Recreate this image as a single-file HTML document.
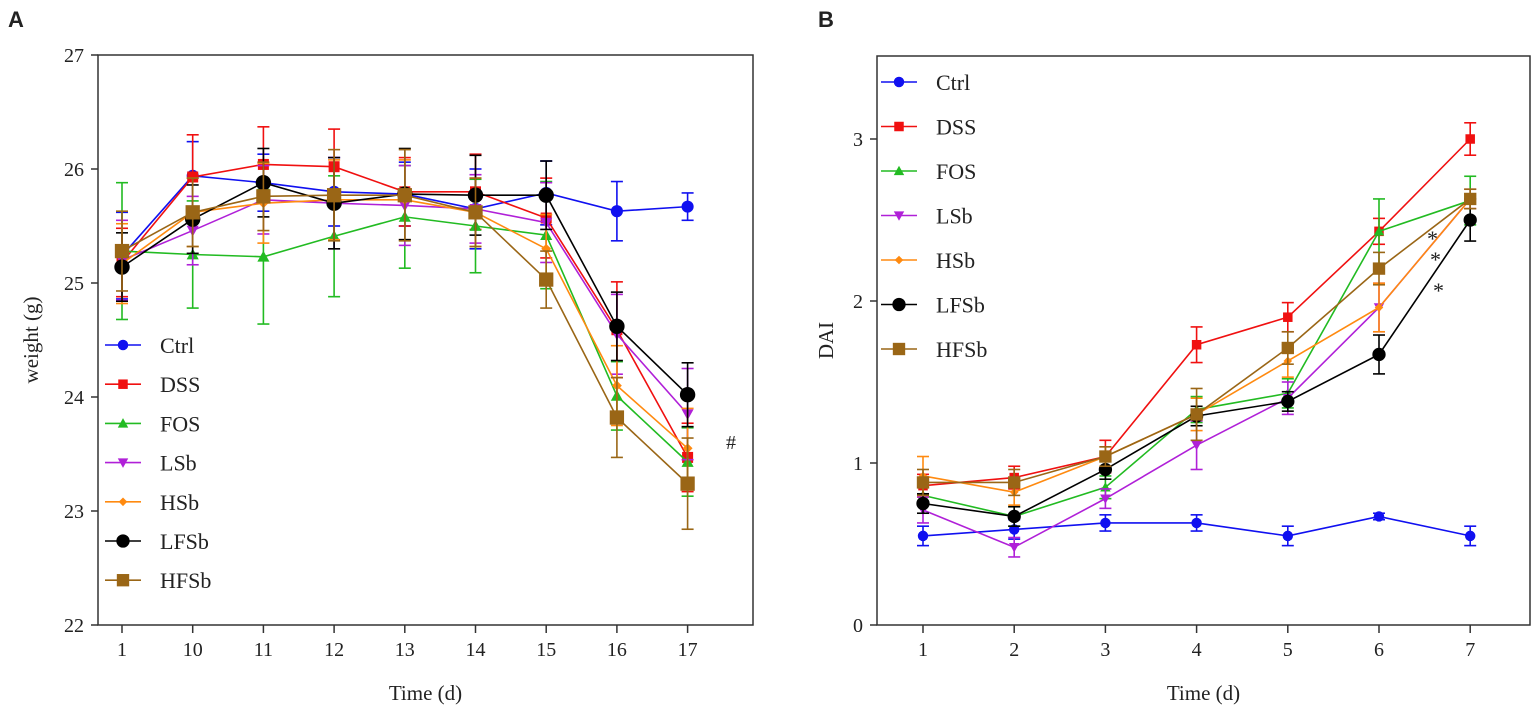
<!DOCTYPE html>
<html><head><meta charset="utf-8"><style>
body{margin:0;background:#fff;width:1535px;height:720px;overflow:hidden}
svg text{font-family:"Liberation Serif",serif;fill:#222}
</style></head><body>
<svg id="s" width="1535" height="720">
<text x="8" y="27" style="font-family:'Liberation Sans',sans-serif;font-weight:bold;font-size:22px">A</text>
<text x="818" y="27" style="font-family:'Liberation Sans',sans-serif;font-weight:bold;font-size:22px">B</text>
</svg>
<script>
const names=["Ctrl","DSS","FOS","LSb","HSb","LFSb","HFSb"];
const colors=["#1010f0","#f01010","#22bb22","#b020d8","#ff8a10","#000000","#9a6616"];
const shapes=["circle","square","tri","tridown","diamond","bigcircle","bigsquare"];
const catsA=["1","10","11","12","13","14","15","16","17"];
const ticksA=[22,23,24,25,26,27];
const valsA=[
[25.24,25.94,25.88,25.80,25.78,25.65,25.79,25.63,25.67],
[25.18,25.93,26.04,26.02,25.80,25.80,25.57,24.59,23.47],
[25.28,25.25,25.23,25.41,25.58,25.50,25.42,24.01,23.43],
[25.20,25.46,25.73,25.70,25.68,25.65,25.53,24.55,23.85],
[25.17,25.62,25.70,25.73,25.73,25.62,25.30,24.10,23.55],
[25.14,25.56,25.88,25.70,25.78,25.77,25.77,24.62,24.02],
[25.28,25.62,25.76,25.77,25.77,25.62,25.03,23.82,23.24]];
const errA=[
[0.38,0.30,0.25,0.30,0.28,0.35,0.28,0.26,0.12],
[0.30,0.37,0.33,0.33,0.30,0.33,0.35,0.42,0.30],
[0.60,0.47,0.59,0.53,0.45,0.41,0.47,0.30,0.30],
[0.35,0.30,0.30,0.40,0.35,0.30,0.35,0.35,0.40],
[0.35,0.30,0.35,0.35,0.35,0.30,0.30,0.35,0.35],
[0.30,0.30,0.30,0.40,0.40,0.35,0.30,0.30,0.28],
[0.35,0.30,0.30,0.40,0.40,0.30,0.25,0.35,0.40]];
const catsB=["1","2","3","4","5","6","7"];
const ticksB=[0,1,2,3];
const valsB=[
[0.55,0.59,0.63,0.63,0.55,0.67,0.55],
[0.86,0.91,1.04,1.73,1.90,2.43,3.00],
[0.80,0.67,0.85,1.33,1.43,2.43,2.62],
[0.71,0.48,0.78,1.11,1.40,1.96,2.63],
[0.92,0.82,1.04,1.30,1.63,1.96,2.63],
[0.75,0.67,0.96,1.29,1.38,1.67,2.50],
[0.88,0.88,1.04,1.30,1.71,2.20,2.63]];
const errB=[
[0.06,0.06,0.05,0.05,0.06,0.02,0.06],
[0.07,0.07,0.10,0.11,0.09,0.08,0.10],
[0.06,0.06,0.07,0.08,0.09,0.20,0.15],
[0.08,0.06,0.06,0.15,0.10,0.15,0.06],
[0.12,0.08,0.06,0.10,0.10,0.15,0.06],
[0.06,0.06,0.06,0.06,0.06,0.12,0.13],
[0.08,0.08,0.06,0.16,0.10,0.10,0.06]];

const svg=document.getElementById('s');
const NS="http://www.w3.org/2000/svg";
function mk(t,a,p){const e=document.createElementNS(NS,t);for(const k in a)e.setAttribute(k,a[k]);(p||svg).appendChild(e);return e;}
function marker(g,sh,x,y,c,s){
 let e;
 if(sh==="circle"){e=mk('circle',{cx:x,cy:y,r:5.5*s,fill:c},g);}
 else if(sh==="bigcircle"){e=mk('circle',{cx:x,cy:y,r:7*s,fill:c},g);}
 else if(sh==="square"){const r=5*s;e=mk('rect',{x:x-r,y:y-r,width:2*r,height:2*r,fill:c},g);}
 else if(sh==="bigsquare"){const r=6.5*s;e=mk('rect',{x:x-r,y:y-r,width:2*r,height:2*r,fill:c},g);}
 else if(sh==="tri"){const r=5.5*s;e=mk('polygon',{points:`${x},${y-r} ${x-r},${y+r*0.8} ${x+r},${y+r*0.8}`,fill:c},g);}
 else if(sh==="tridown"){const r=5.5*s;e=mk('polygon',{points:`${x},${y+r} ${x-r},${y-r*0.8} ${x+r},${y-r*0.8}`,fill:c},g);}
 else {const r=4.5*s;e=mk('polygon',{points:`${x},${y-r} ${x+r},${y} ${x},${y+r} ${x-r},${y}`,fill:c},g);}
 
 
}
function panel(o){
 const X=i=>o.x0+i*o.dx, Y=v=>o.yb-(v-o.ymin)*o.py;
 const b=mk('rect',{x:o.L,y:o.T,width:o.R-o.L,height:o.B-o.T,fill:'none',stroke:'#333','stroke-width':1.5});
 
 
 o.ticks.forEach(v=>{
  mk('line',{x1:o.L-7,x2:o.L,y1:Y(v),y2:Y(v),stroke:'#333','stroke-width':1.5});
  const t=mk('text',{x:o.L-14,y:Y(v)+7,'text-anchor':'end','font-size':20});t.textContent=v;
  
  
 });
 o.cats.forEach((c,i)=>{
  mk('line',{x1:X(i),x2:X(i),y1:o.B,y2:o.B+8,stroke:'#333','stroke-width':1.5});
  const t=mk('text',{x:X(i),y:o.B+31,'text-anchor':'middle','font-size':20});t.textContent=c;
  
  
 });
 const xt=mk('text',{x:(o.L+o.R)/2,y:700,'text-anchor':'middle','font-size':21});xt.textContent="Time (d)";
 
 
 const yt=mk('text',{x:o.ytx,y:(o.T+o.B)/2,'text-anchor':'middle','font-size':21,transform:`rotate(-90 ${o.ytx} ${(o.T+o.B)/2})`});yt.textContent=o.ytitle;
 
 
 o.vals.forEach((ser,k)=>{
  const g=mk('g',{});
  
  
  const c=colors[k];
  ser.forEach((v,i)=>{const e=o.err[k][i],x=X(i);
   mk('line',{x1:x,x2:x,y1:Y(v-e),y2:Y(v+e),stroke:c,'stroke-width':1.6},g);
   mk('line',{x1:x-6,x2:x+6,y1:Y(v-e),y2:Y(v-e),stroke:c,'stroke-width':1.6},g);
   mk('line',{x1:x-6,x2:x+6,y1:Y(v+e),y2:Y(v+e),stroke:c,'stroke-width':1.6},g);});
  mk('polyline',{points:ser.map((v,i)=>X(i)+','+Y(v)).join(' '),fill:'none',stroke:c,'stroke-width':1.6},g);
  ser.forEach((v,i)=>marker(g,shapes[k],X(i),Y(v),c,o.ms));
 });
 names.forEach((n,k)=>{
  const g=mk('g',{});
  
  
  const y=o.ly+k*o.lsp;
  mk('line',{x1:o.lx,x2:o.lx+36,y1:y,y2:y,stroke:colors[k],'stroke-width':1.6},g);
  marker(g,shapes[k],o.lx+18,y,colors[k],0.95);
  const t=mk('text',{x:o.lx+55,y:y+8,'font-size':22},g);t.textContent=n;
 });
}
panel({id:'weight',L:98,R:753,T:55,B:625,x0:122,dx:70.7,yb:625,ymin:22,py:114,ticks:ticksA,cats:catsA,vals:valsA,err:errA,ytitle:'weight (g)',ytx:38,lx:105,ly:345,lsp:39.2,ms:1.1});
panel({id:'dai',L:877,R:1530,T:56,B:625,x0:923,dx:91.2,yb:625,ymin:0,py:162,ticks:ticksB,cats:catsB,vals:valsB,err:errB,ytitle:'DAI',ytx:833,lx:881,ly:82,lsp:44.5,ms:0.95});
const h=mk('text',{x:726,y:449,'font-size':20});h.textContent='#';


[[1427,246],[1430,267],[1433,298]].forEach(p=>{const t=mk('text',{x:p[0],y:p[1],'font-size':22});t.textContent='*';

});
</script>
</body></html>
